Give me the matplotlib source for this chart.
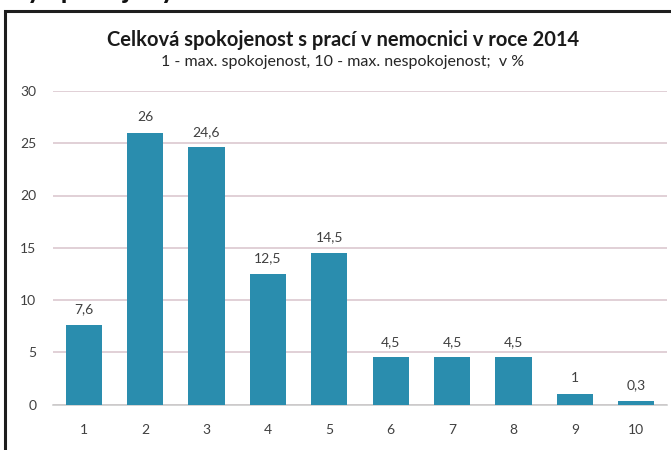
import matplotlib
matplotlib.use("Agg")
import matplotlib.pyplot as plt
from matplotlib.patches import Rectangle

categories = ["1", "2", "3", "4", "5", "6", "7", "8", "9", "10"]
values = [7.6, 26, 24.6, 12.5, 14.5, 4.5, 4.5, 4.5, 1, 0.3]
value_labels = ["7,6", "26", "24,6", "12,5", "14,5", "4,5", "4,5", "4,5", "1", "0,3"]
yticks = [0, 5, 10, 15, 20, 25, 30]
title = "Celková spokojenost s prací v nemocnici v roce 2014"
subtitle = "1 - max. spokojenost, 10 - max. nespokojenost;  v %"

plt.rcParams['font.family'] = ['Lato', 'DejaVu Sans']

W, H = 671, 450
fig = plt.figure(figsize=(W / 100, H / 100), dpi=100)

# frame of the chart (cut off at the right and bottom)
fig.patches.append(Rectangle((5 / W, -0.1), 1.2, 1 - 11 / H + 0.1,
                             transform=fig.transFigure, fill=False,
                             edgecolor="#1e1e1e", linewidth=2.2))
# fragment of the page heading above the chart (only descenders visible)
fig.text(0.04, 1 + 2 / H, "ý spokojený", fontsize=20, fontweight='bold',
         color='#111111', va='baseline', ha='left')

left, right = 53 / W, 667 / W
bottom, top = 1 - 404.5 / H, 1 - 91 / H
ax = fig.add_axes([left, bottom, right - left, top - bottom])

x = list(range(1, len(categories) + 1))
bars = ax.bar(x, values, width=0.59, color="#2A8DAE", zorder=3)
for xi, v, lab in zip(x, values, value_labels):
    ax.annotate(lab, (xi, v), xytext=(0, 7), textcoords='offset points',
                ha='center', va='bottom', fontsize=10, color='#404040')

ax.set_xlim(0.5, 10.5)
ax.set_ylim(0, 30)
ax.set_yticks(yticks)
ax.set_xticks(x)
ax.set_xticklabels(categories)
ax.tick_params(axis='both', length=0, labelsize=10, labelcolor='#404040')
ax.tick_params(axis='y', pad=12)
ax.tick_params(axis='x', pad=14)
ax.grid(axis='y', color='#D8C4CC', linewidth=1.1, zorder=0)
for s in ['top', 'right', 'left']:
    ax.spines[s].set_visible(False)
ax.spines['bottom'].set_color('#C8C8C8')
ax.spines['bottom'].set_linewidth(1.1)
ax.set_facecolor('none')

fig.text(343 / W, 1 - 40 / H, title, ha='center', va='center',
         fontsize=14.5, fontweight='bold', color='#1a1a1a')
fig.text(343 / W, 1 - 62 / H, subtitle, ha='center', va='center',
         fontsize=11.5, color='#262626')

fig.savefig("out.png", dpi=100)
